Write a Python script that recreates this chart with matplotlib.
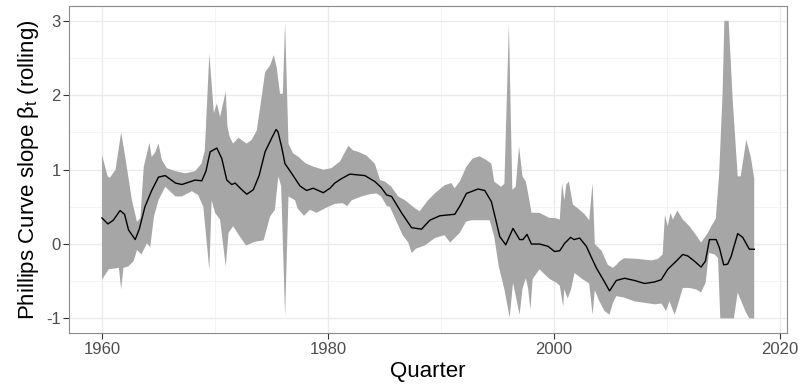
import numpy as np
import matplotlib
matplotlib.use("Agg")
import matplotlib.pyplot as plt

plt.rcParams['font.family'] = ['Liberation Sans', 'DejaVu Sans']
plt.rcParams['axes.unicode_minus'] = False

# rolling slope estimate (black line)
year_mid = [1960.0, 1960.53, 1961.0, 1961.6, 1962.0, 1962.35, 1962.94, 1963.3, 1963.8, 1964.4,
            1965.0, 1965.6, 1966.5, 1967.07, 1968.24, 1968.83, 1969.2, 1969.57, 1970.16, 1970.6,
            1971.04, 1971.48, 1971.78, 1972.3, 1972.81, 1973.39, 1973.9, 1974.43, 1975.0, 1975.4,
            1975.57, 1975.9, 1976.19, 1976.78, 1977.52, 1978.1, 1978.69, 1979.58, 1980.17, 1980.6,
            1981.2, 1981.93, 1983.26, 1984.14, 1984.7, 1985.18, 1985.62, 1986.5, 1987.39, 1988.27,
            1989.0, 1989.89, 1991.21, 1991.7, 1992.24, 1993.27, 1993.86, 1994.45, 1994.8, 1995.19,
            1995.72, 1996.36, 1996.95, 1997.24, 1997.6, 1997.99, 1998.72, 1999.45, 2000.04, 2000.5,
            2000.93, 2001.46, 2001.75, 2002.26, 2002.85, 2003.3, 2003.73, 2004.46, 2004.9, 2005.5,
            2006.23, 2007.11, 2008.0, 2008.88, 2009.47, 2010.05, 2010.8, 2011.38, 2011.82, 2012.41,
            2013.0, 2013.38, 2013.74, 2014.33, 2014.62, 2015.0, 2015.35, 2015.65, 2016.24, 2016.68,
            2017.27, 2017.71]
beta_mid = [0.35, 0.27, 0.32, 0.45, 0.40, 0.19, 0.06, 0.20, 0.50, 0.72,
            0.90, 0.92, 0.82, 0.80, 0.86, 0.85, 0.98, 1.24, 1.29, 1.15,
            0.86, 0.80, 0.82, 0.74, 0.67, 0.73, 0.92, 1.24, 1.42, 1.54,
            1.51, 1.30, 1.08, 0.95, 0.78, 0.72, 0.75, 0.69, 0.75, 0.82,
            0.88, 0.94, 0.92, 0.84, 0.76, 0.66, 0.64, 0.42, 0.22, 0.20,
            0.32, 0.38, 0.40, 0.52, 0.68, 0.74, 0.72, 0.57, 0.35, 0.10,
            -0.01, 0.21, 0.06, 0.06, 0.13, 0.0, 0.0, -0.03, -0.10, -0.09,
            0.01, 0.09, 0.06, 0.08, -0.03, -0.18, -0.32, -0.51, -0.63, -0.49,
            -0.46, -0.49, -0.53, -0.51, -0.48, -0.34, -0.23, -0.14, -0.16, -0.23,
            -0.31, -0.23, 0.06, 0.06, -0.05, -0.28, -0.27, -0.17, 0.14, 0.09,
            -0.07, -0.07]

# upper band
year_up = [1960.0, 1960.5, 1960.7, 1961.2, 1961.7, 1962.06, 1962.65, 1963.1, 1963.4, 1963.7,
           1964.2, 1964.4, 1964.7, 1965.0, 1965.3, 1965.74, 1966.5, 1967.36, 1968.24, 1968.8,
           1969.1, 1969.5, 1969.9, 1970.16, 1970.45, 1970.95, 1971.1, 1971.3, 1971.6, 1972.07,
           1972.8, 1973.25, 1973.7, 1974.13, 1974.43, 1974.87, 1975.2, 1975.46, 1975.75, 1976.0,
           1976.2, 1976.5, 1976.9, 1977.4, 1977.96, 1978.7, 1979.6, 1980.3, 1981.05, 1981.8,
           1982.2, 1982.67, 1983.4, 1984.14, 1984.6, 1985.03, 1985.6, 1986.2, 1986.8, 1987.7,
           1988.1, 1988.85, 1989.44, 1990.3, 1990.9, 1991.2, 1991.65, 1992.24, 1992.8, 1993.4,
           1994.0, 1994.45, 1994.7, 1995.3, 1995.6, 1996.0, 1996.3, 1996.6, 1996.9, 1997.2,
           1997.5, 1997.7, 1998.0, 1998.7, 1999.6, 2000.05, 2000.5, 2000.7, 2000.9, 2001.08,
           2001.3, 2001.66, 2002.1, 2002.7, 2003.1, 2003.4, 2003.6, 2004.2, 2004.75, 2005.2,
           2005.5, 2005.8, 2006.2, 2007.4, 2008.6, 2009.17, 2009.6, 2009.8, 2010.05, 2010.3,
           2010.5, 2010.9, 2011.38, 2011.97, 2012.56, 2013.0, 2013.6, 2013.9, 2014.3, 2014.6,
           2014.9, 2015.06, 2015.44, 2015.8, 2016.24, 2016.5, 2017.0, 2017.4, 2017.7]
beta_up = [1.20, 0.91, 0.89, 1.00, 1.50, 1.17, 0.59, 0.30, 0.35, 1.04,
           1.36, 1.17, 1.23, 1.35, 1.13, 1.02, 0.98, 0.95, 0.98, 1.08,
           1.26, 2.56, 1.76, 1.89, 1.71, 2.05, 1.58, 1.44, 1.35, 1.43,
           1.35, 1.40, 1.53, 1.98, 2.31, 2.40, 2.54, 2.37, 2.02, 2.02,
           2.98, 1.35, 1.22, 1.17, 1.09, 1.04, 1.00, 1.02, 1.11, 1.32,
           1.26, 1.24, 1.19, 1.08, 0.86, 0.84, 0.77, 0.64, 0.59, 0.48,
           0.44, 0.59, 0.68, 0.79, 0.82, 0.75, 0.84, 1.04, 1.15, 1.18,
           1.13, 1.08, 0.84, 0.77, 0.81, 2.96, 0.73, 0.77, 1.31, 0.91,
           0.84, 0.68, 0.42, 0.42, 0.35, 0.35, 0.33, 0.82, 0.59, 0.80,
           0.84, 0.53, 0.48, 0.40, 0.32, 0.82, 0.0, -0.09, -0.28, -0.32,
           -0.28, -0.23, -0.19, -0.20, -0.22, -0.20, -0.14, 0.39, 0.24, 0.42,
           0.33, 0.45, 0.33, 0.24, 0.12, 0.02, 0.15, 0.24, 0.34, 0.95,
           2.02, 3.0, 3.0, 1.93, 0.91, 0.91, 1.40, 1.17, 0.88]

# lower band
year_lo = [1960.0, 1960.6, 1961.5, 1961.7, 1961.9, 1962.35, 1962.8, 1963.1, 1963.5, 1963.97,
           1964.27, 1964.6, 1965.0, 1965.6, 1966.5, 1967.07, 1967.95, 1968.5, 1968.97, 1969.5,
           1969.7, 1970.0, 1970.45, 1970.95, 1971.2, 1971.6, 1972.2, 1972.75, 1973.5, 1974.3,
           1974.87, 1975.3, 1975.6, 1975.85, 1976.2, 1976.5, 1977.08, 1977.3, 1977.87, 1978.4,
           1978.99, 1979.73, 1980.6, 1981.3, 1981.7, 1982.1, 1982.97, 1983.7, 1984.3, 1984.7,
           1985.2, 1985.47, 1986.06, 1986.6, 1987.1, 1987.4, 1987.8, 1988.56, 1989.44, 1990.3,
           1990.8, 1991.65, 1992.2, 1992.7, 1994.3, 1994.7, 1995.1, 1995.6, 1996.07, 1996.36,
           1996.95, 1997.2, 1997.5, 1997.7, 1997.9, 1998.1, 1998.7, 1999.6, 2000.2, 2000.5,
           2000.8, 2000.9, 2001.2, 2001.5, 2001.8, 2002.5, 2003.1, 2003.4, 2003.6, 2004.0,
           2004.46, 2004.9, 2005.2, 2005.5, 2006.2, 2007.1, 2008.0, 2008.9, 2009.5, 2009.9,
           2010.2, 2010.66, 2010.9, 2011.38, 2011.97, 2012.56, 2013.0, 2013.4, 2013.7, 2014.2,
           2014.5, 2014.7, 2015.9, 2016.24, 2016.5, 2017.0, 2017.27, 2017.7]
beta_lo = [-0.48, -0.34, -0.32, -0.61, -0.32, -0.30, -0.23, -0.08, -0.14, 0.01,
           -0.04, 0.37, 0.59, 0.77, 0.64, 0.64, 0.71, 0.66, 0.50, -0.35,
           0.59, 0.42, 0.33, -0.30, 0.15, 0.24, 0.10, -0.02, 0.03, 0.05,
           0.37, 0.46, 0.91, 0.78, -0.97, 0.64, 0.59, 0.48, 0.38, 0.46,
           0.42, 0.48, 0.54, 0.55, 0.51, 0.59, 0.64, 0.67, 0.68, 0.64,
           0.51, 0.50, 0.30, 0.12, 0.02, -0.12, -0.06, -0.02, 0.08, 0.12,
           0.02, 0.15, 0.30, 0.32, 0.32, 0.10, -0.30, -0.61, -0.99, -0.52,
           -0.95, -0.60, -0.46, -0.60, -0.88, -0.47, -0.34, -0.47, -0.52, -0.56,
           -0.84, -0.61, -0.73, -0.61, -0.39, -0.47, -0.53, -0.95, -0.62, -0.77,
           -0.90, -0.95, -0.79, -0.70, -0.72, -0.77, -0.79, -0.81, -0.80, -0.90,
           -0.77, -0.95, -0.84, -0.59, -0.59, -0.61, -0.65, -0.52, -0.12, -0.14,
           -0.19, -1.0, -1.0, -0.65, -0.75, -0.93, -1.0, -1.0]

fig = plt.figure(figsize=(8.02, 3.86), dpi=100)
ax = fig.add_subplot(111)
fig.subplots_adjust(left=0.0864, right=0.9813, top=0.9845, bottom=0.1365)

# ribbon: upper edge forward, lower edge back
ax.fill(np.concatenate([year_up, year_lo[::-1]]),
        np.concatenate([beta_up, beta_lo[::-1]]),
        color='#a6a6a6', linewidth=0, zorder=2)
ax.plot(year_mid, beta_mid, color='black', lw=1.0, zorder=3)

ax.set_xlim(1957.11, 2020.6)
ax.set_ylim(-1.2, 3.2)
ax.set_xticks([1960, 1980, 2000, 2020])
ax.set_xticks([1970, 1990, 2010], minor=True)
ax.set_yticks([-1, 0, 1, 2, 3])
ax.set_yticks([-0.5, 0.5, 1.5, 2.5], minor=True)
ax.grid(which='major', color='#ebebeb', lw=1.0, zorder=0)
ax.grid(which='minor', color='#f2f2f2', lw=0.6, zorder=0)
ax.set_axisbelow(True)

ax.tick_params(which='major', length=4, width=0.8, color='#333333',
               labelsize=12, labelcolor='#4d4d4d', pad=2)
ax.tick_params(which='minor', length=0)
for s in ax.spines.values():
    s.set_color('#8a8a8a')
    s.set_linewidth(0.8)

ax.set_xlabel('Quarter', fontsize=16, labelpad=3)
ax.set_ylabel(r'Phillips Curve slope β$_\mathregular{t}$ (rolling)', fontsize=16, labelpad=4)

fig.savefig('out.png', dpi=100)
